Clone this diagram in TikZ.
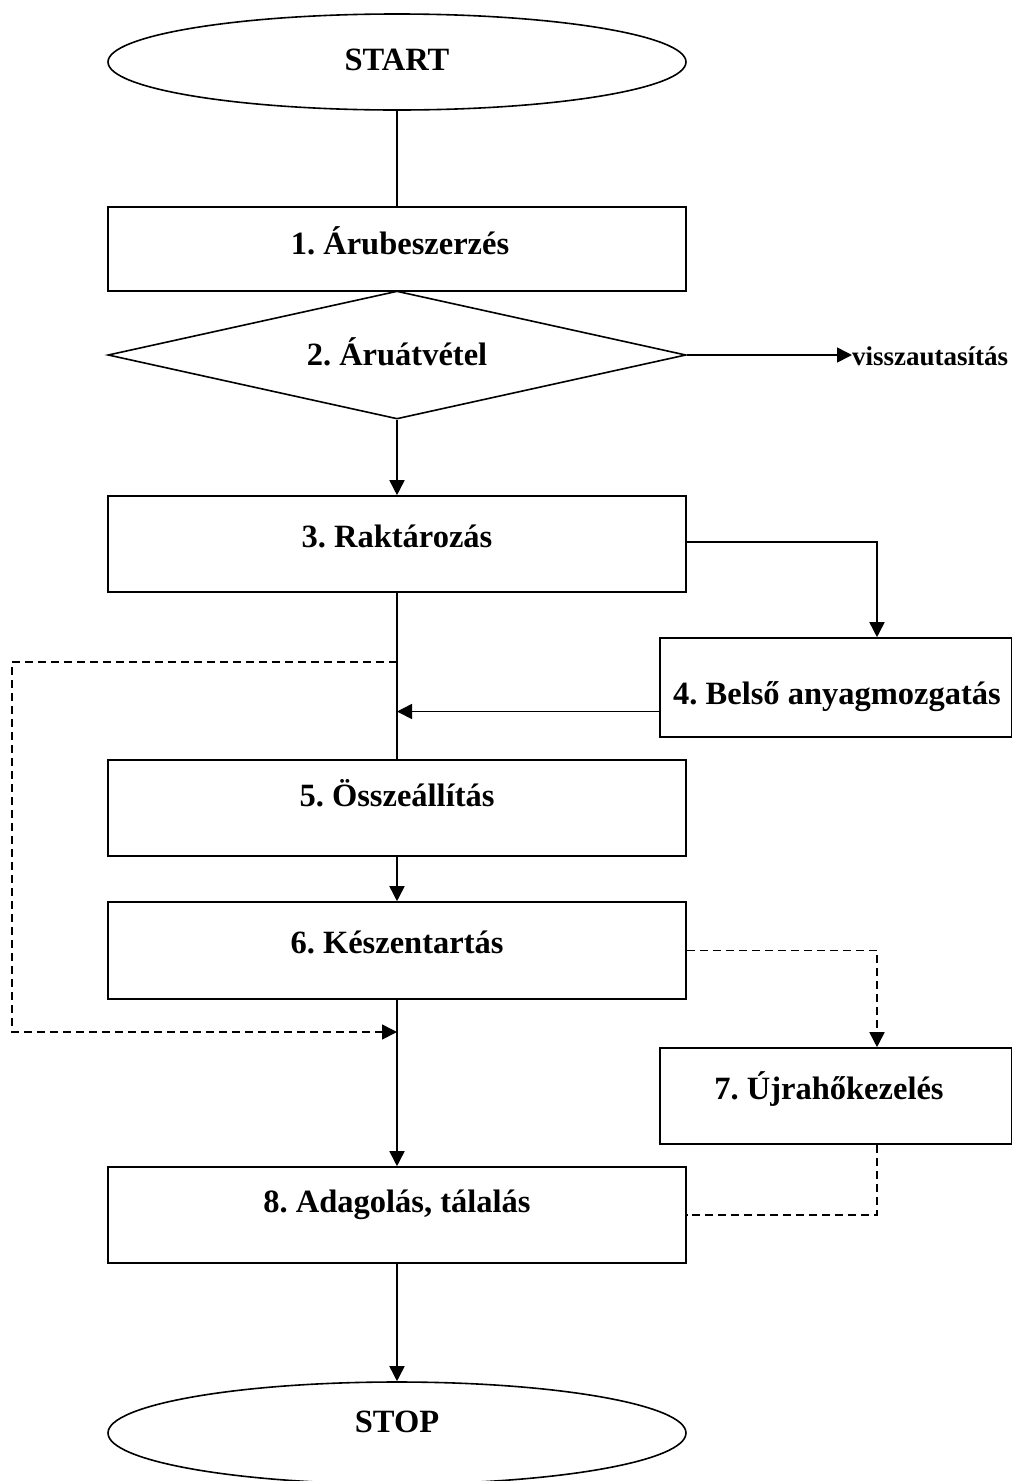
\documentclass[tikz,border=0pt]{standalone}
\usepackage{fontspec}
\setmainfont{Liberation Serif}
\usetikzlibrary{shapes.geometric,arrows.meta}
\frenchspacing
\begin{document}
\begin{tikzpicture}[x=1pt,y=-1pt,
  shapeline/.style={draw,line width=1.6pt,inner sep=0pt},
  box/.style={shapeline,rectangle,minimum width=578pt},
  sidebox/.style={shapeline,rectangle,minimum width=352pt},
  term/.style={shapeline,ellipse,minimum width=578pt},
  decide/.style={shapeline,diamond,minimum width=578pt,minimum height=128pt},
  txt/.style={font=\fontsize{32.5}{38}\selectfont\bfseries,anchor=base,inner sep=0pt},
  smalltxt/.style={font=\fontsize{27}{32}\selectfont\bfseries,anchor=base west,inner sep=0pt},
  conn/.style={line width=1.6pt},
  arr/.style={conn,-{Triangle[length=15pt,width=15pt]}},
  dconn/.style={conn,dash pattern=on 8pt off 5pt},
  darr/.style={dconn,-{Triangle[length=15pt,width=15pt]}}
]
\useasboundingbox (0,0) rectangle (1012,1481);
\clip (0,0) rectangle (1012,1481);

% shapes
\node[term,minimum height=96pt] (start) at (397,62) {};
\node[box,minimum height=84pt] (b1) at (397,249) {};
\node[decide] (d2) at (397,355) {};
\node[box,minimum height=96pt] (b3) at (397,544) {};
\node[sidebox,minimum height=99pt] (b4) at (836,687.5) {};
\node[box,minimum height=96pt] (b5) at (397,808) {};
\node[box,minimum height=97pt] (b6) at (397,950.5) {};
\node[sidebox,minimum height=96pt] (b7) at (836,1096) {};
\node[box,minimum height=96pt] (b8) at (397,1215) {};
\node[term,minimum height=102pt] (stop) at (397,1433) {};

% texts
\node[txt] (tstart) at (397,70.5) {START};
\node[txt] (t1) at (400,254.5) {1. Árubeszerzés};
\node[txt] (t2) at (397,365.5) {2. Áruátvétel};
\node[txt] (t3) at (397,547.5) {3. Raktározás};
\node[txt] (t4) at (837,704.5) {4. Belső anyagmozgatás};
\node[txt] (t5) at (397,806.5) {5. Összeállítás};
\node[txt] (t6) at (397,953.5) {6. Készentartás};
\node[txt] (t7) at (829,1099.5) {7. Újrahőkezelés};
\node[txt] (t8) at (397,1212.5) {8. Adagolás, tálalás};
\node[txt] (tstop) at (397,1432.5) {STOP};
\node[smalltxt] (rej) at (852,365) {visszautasítás};

% helper coordinates
\coordinate (dl1) at (397,662);
\coordinate (dl2) at (397,1032);

% connectors
\draw[conn] (start.south) -- (b1.north);
\draw[arr] (d2.east) -- (d2.east -| rej.west);
\draw[arr] (d2.south) -- (b3.north);
\draw[arr] ([yshift=2pt]b3.east) -| ([xshift=41pt]b4.north);
\draw[arr] ([yshift=-24pt]b4.west) -- ([yshift=-24pt]b4.west -| b3.south);
\draw[conn] (b3.south) -- (b5.north);
\draw[darr] (dl1) -| (12,1032) -- (dl2);
\draw[arr] (b5.south) -- (b6.north);
\draw[darr] (b6.east) -| ([xshift=41pt]b7.north);
\draw[arr] (b6.south) -- (b8.north);
\draw[dconn] ([xshift=41pt]b7.south) |- (b8.east);
\draw[arr] (b8.south) -- (stop.north);
\end{tikzpicture}
\end{document}
